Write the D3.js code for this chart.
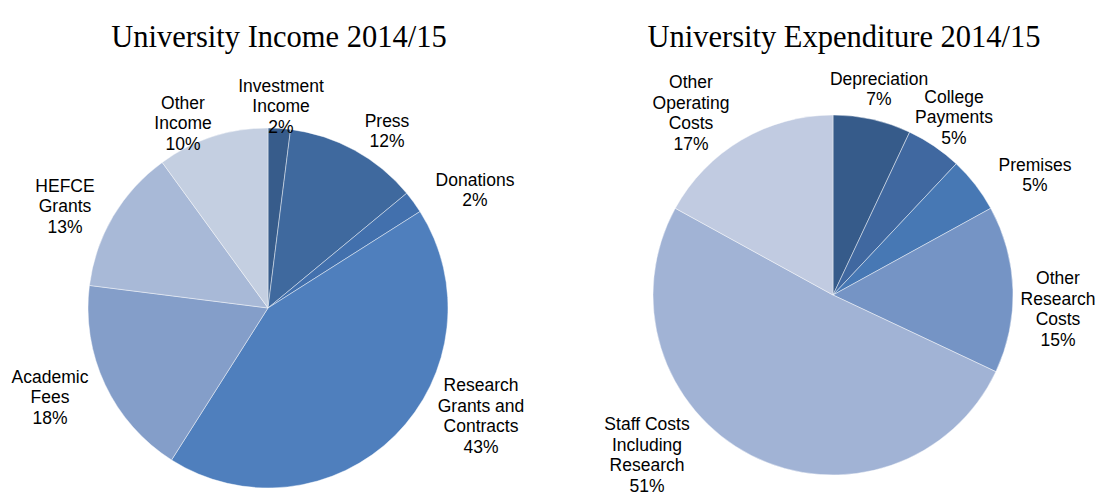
<!DOCTYPE html>
<html>
<head>
<meta charset="utf-8">
<script src="https://cdn.jsdelivr.net/npm/d3@7"></script>
<style>
  body { margin: 0; background: #fff; }
  .title { font-family: "Liberation Serif", "Times New Roman", serif; font-size: 30.5px; fill: #000; }
  .lbl { font-family: "Liberation Sans", Arial, sans-serif; font-size: 17.5px; fill: #000; }
</style>
</head>
<body>
<div id="chart"></div>
<script>
// income pie
var incomeCats = ['Investment\nIncome', 'Press', 'Donations', 'Research\nGrants and\nContracts', 'Academic\nFees', 'HEFCE\nGrants', 'Other\nIncome'];
var incomeVals = [2, 12, 2, 43, 18, 13, 10];
var incomeColors = ['#375c8b', '#3f699e', '#4270ad', '#4f7fbd', '#849ec9', '#a8b9d7', '#c4cfe1'];

// expenditure pie
var expCats = ['Depreciation', 'College\nPayments', 'Premises', 'Other\nResearch\nCosts', 'Staff Costs\nIncluding\nResearch', 'Other\nOperating\nCosts'];
var expVals = [7, 5, 5, 15, 51, 17];
var expColors = ['#365b8a', '#4068a0', '#4778b4', '#7594c5', '#a1b3d5', '#c1cbe1'];

// label centres relative to pie centre (layout only)
var incomeLabelPos = [[13, -202], [119, -177], [207, -118], [213, 108], [-218, 89], [-203, -102], [-85, -185]];
var expLabelPos = [[46, -206], [121, -178], [202, -120], [225, 14], [-186, 160], [-142, -182]];

var W = 1105, H = 497, r = 180;

var svg = d3.select("#chart").append("svg")
  .attr("width", W)
  .attr("height", H);

function drawPie(cx, cy, title, cats, vals, colors, labelPos) {
  var g = svg.append("g").attr("transform", "translate(" + cx + "," + cy + ")");

  var pie = d3.pie().sort(null).value(function(d) { return d; });
  var arc = d3.arc().innerRadius(0).outerRadius(r);
  var arcs = pie(vals);

  g.selectAll("path")
    .data(arcs)
    .enter()
    .append("path")
      .attr("d", arc)
      .attr("fill", function(d, i) { return colors[i]; })
      .attr("stroke", "rgba(255,255,255,0.55)")
      .attr("stroke-width", 0.8);

  var lh = 20.5;
  arcs.forEach(function(d, i) {
    var lines = cats[i].split("\n").concat([vals[i] + "%"]);
    var t = g.append("text")
      .attr("class", "lbl")
      .attr("text-anchor", "middle")
      .attr("x", labelPos[i][0])
      .attr("y", labelPos[i][1] - (lines.length - 1) * lh / 2);
    lines.forEach(function(s, k) {
      t.append("tspan")
        .attr("x", labelPos[i][0])
        .attr("dy", k == 0 ? "0.35em" : lh)
        .text(s);
    });
  });

  // title sits a little right of the pie centre
  svg.append("text")
    .attr("class", "title")
    .attr("text-anchor", "middle")
    .attr("x", cx + 11)
    .attr("y", 47)
    .text(title);
}

drawPie(268, 308, "University Income 2014/15", incomeCats, incomeVals, incomeColors, incomeLabelPos);
drawPie(833, 295, "University Expenditure 2014/15", expCats, expVals, expColors, expLabelPos);
</script>
</body>
</html>
